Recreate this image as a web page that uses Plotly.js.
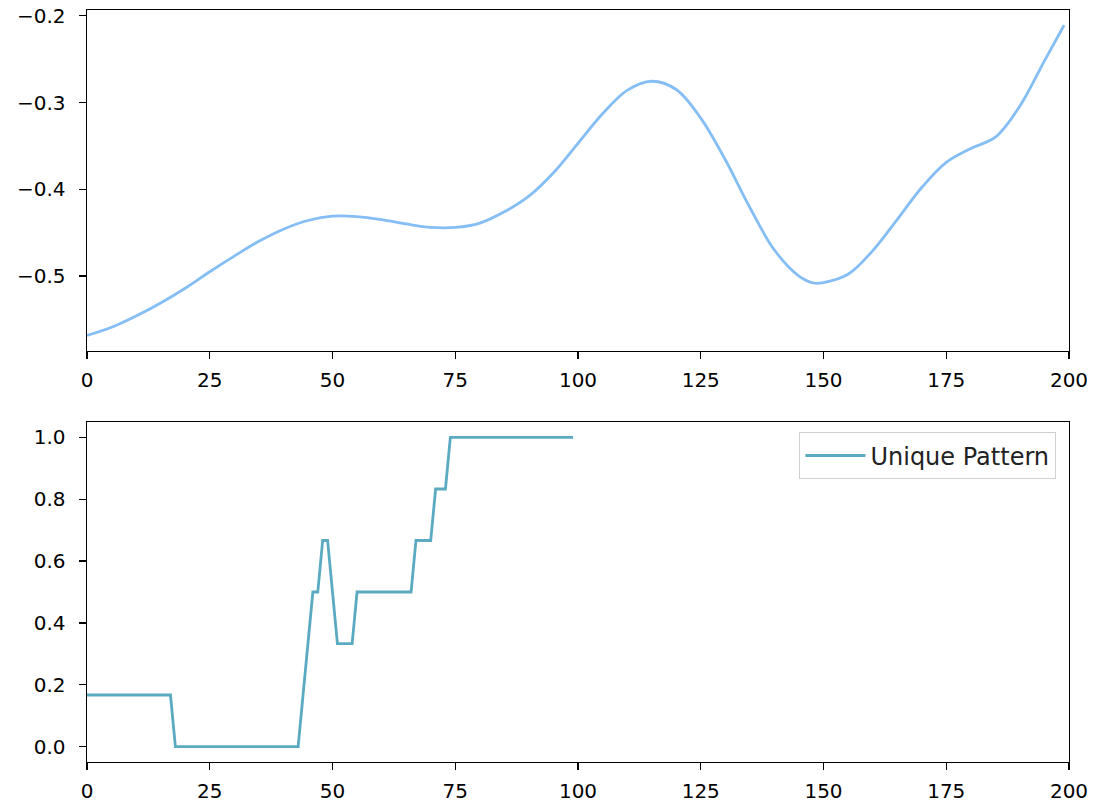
<!DOCTYPE html>
<html>
<head>
<meta charset="utf-8">
<script src="https://cdn.plot.ly/plotly-3.0.1.min.js"></script>
<style>
  html, body { margin: 0; padding: 0; background: #ffffff; }
  #chart { width: 1104px; height: 805px; }
</style>
</head>
<body>
<div id="chart"></div>
<script>
// Top panel: smooth curve
const topX = [0, 5, 10, 15, 20, 25, 30, 35, 40, 45, 50, 55, 60, 65, 70, 75, 80, 85, 90, 95,
              100, 105, 110, 115, 120, 125, 130, 135, 140, 145, 148, 150, 155, 160, 165, 170,
              175, 180, 185, 190, 195, 199];
const topY = [-0.5685, -0.559, -0.546, -0.531, -0.514, -0.495, -0.477, -0.460, -0.446, -0.436,
              -0.431, -0.4315, -0.435, -0.440, -0.444, -0.444, -0.439, -0.426, -0.408, -0.381,
              -0.347, -0.313, -0.286, -0.2755, -0.285, -0.318, -0.366, -0.421, -0.470, -0.500,
              -0.508, -0.5075, -0.498, -0.471, -0.435, -0.398, -0.369, -0.353, -0.340, -0.304,
              -0.252, -0.211];

// Bottom panel: stepped pattern, x = 0..99
const bottomY = [
  0.1667, 0.1667, 0.1667, 0.1667, 0.1667, 0.1667, 0.1667, 0.1667, 0.1667, 0.1667,
  0.1667, 0.1667, 0.1667, 0.1667, 0.1667, 0.1667, 0.1667, 0.1667, 0, 0,
  0, 0, 0, 0, 0, 0, 0, 0, 0, 0,
  0, 0, 0, 0, 0, 0, 0, 0, 0, 0,
  0, 0, 0, 0, 0.1667, 0.3333, 0.5, 0.5, 0.6667, 0.6667,
  0.5, 0.3333, 0.3333, 0.3333, 0.3333, 0.5, 0.5, 0.5, 0.5, 0.5,
  0.5, 0.5, 0.5, 0.5, 0.5, 0.5, 0.5, 0.6667, 0.6667, 0.6667,
  0.6667, 0.8333, 0.8333, 0.8333, 1, 1, 1, 1, 1, 1,
  1, 1, 1, 1, 1, 1, 1, 1, 1, 1,
  1, 1, 1, 1, 1, 1, 1, 1, 1, 1
];
const bottomX = bottomY.map((_, i) => i);
const legendName = "Unique Pattern";
const xTicks = [0, 25, 50, 75, 100, 125, 150, 175, 200];
const topYTicks = [-0.5, -0.4, -0.3, -0.2];
const bottomYTicks = [0.0, 0.2, 0.4, 0.6, 0.8, 1.0];

const font = { family: "DejaVu Sans, sans-serif", size: 20, color: "#000000" };

const axisCommon = {
  showline: true, mirror: true, linecolor: "#000000", linewidth: 1.4,
  ticks: "outside", ticklen: 7, tickwidth: 1.4, tickcolor: "#000000",
  showgrid: false, zeroline: false, tickfont: font
};

const traces = [
  {
    x: topX, y: topY, type: "scatter", mode: "lines",
    line: { color: "#85BEF5", width: 2.8, shape: "spline", smoothing: 1 },
    xaxis: "x", yaxis: "y", showlegend: false, hoverinfo: "skip"
  },
  {
    x: bottomX, y: bottomY, type: "scatter", mode: "lines",
    name: legendName,
    line: { color: "#5AAAC2", width: 2.8 },
    xaxis: "x2", yaxis: "y2", showlegend: true, hoverinfo: "skip"
  }
];

const layout = {
  width: 1104, height: 805,
  margin: { l: 87, r: 35, t: 10, b: 43 },
  paper_bgcolor: "#ffffff", plot_bgcolor: "#ffffff",
  font: font,
  xaxis: Object.assign({}, axisCommon, {
    domain: [0, 1], range: [0, 200], tickvals: xTicks, anchor: "y",
    ticklabelstandoff: 4
  }),
  yaxis: Object.assign({}, axisCommon, {
    domain: [0.5465, 1], range: [-0.5864, -0.1934], tickvals: topYTicks,
    tickformat: ".1f", anchor: "x", ticklabelstandoff: 9
  }),
  xaxis2: Object.assign({}, axisCommon, {
    domain: [0, 1], range: [0, 200], tickvals: xTicks, anchor: "y2",
    ticklabelstandoff: 4
  }),
  yaxis2: Object.assign({}, axisCommon, {
    domain: [0, 0.4521], range: [-0.05, 1.05], tickvals: bottomYTicks,
    tickformat: ".1f", anchor: "x2", ticklabelstandoff: 9
  }),
  showlegend: true,
  legend: {
    x: 0.9868, xanchor: "right", y: 0.4388, yanchor: "top",
    bgcolor: "rgba(255,255,255,0.8)", bordercolor: "#d0d0d0", borderwidth: 1.4,
    itemwidth: 60,
    font: { family: "DejaVu Sans, sans-serif", size: 24, color: "#222222" }
  }
};

Plotly.newPlot("chart", traces, layout, { displayModeBar: false, staticPlot: true });
</script>
</body>
</html>
